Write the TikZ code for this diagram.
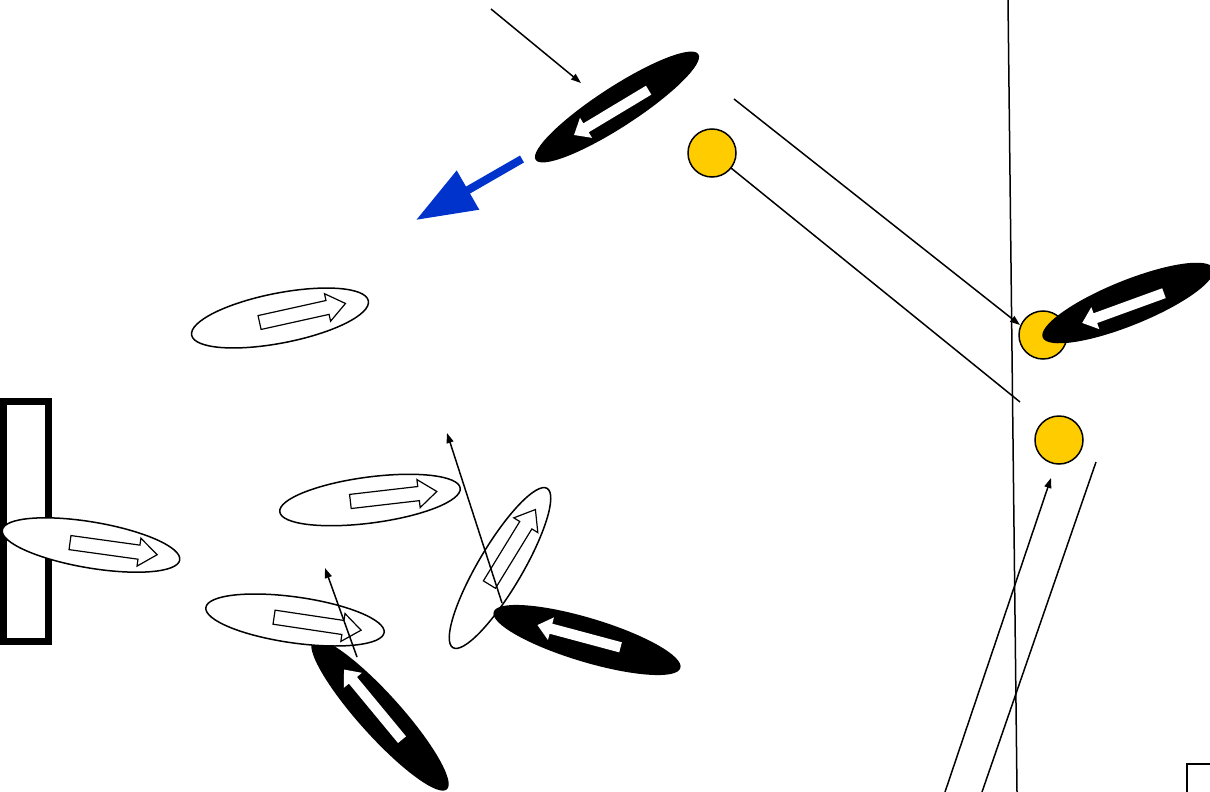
\documentclass[tikz,border=0pt]{standalone}
\usetikzlibrary{shapes.geometric,shapes.arrows,arrows.meta}
\definecolor{gold}{HTML}{FFCC00}
\definecolor{arrowblue}{HTML}{0033CC}
\begin{document}
\begin{tikzpicture}[x=1pt,y=-1pt,
  conn/.style={line width=1.5pt,-{Triangle[length=10pt,width=7pt]}},
  plainline/.style={line width=1.5pt},
  bov/.style={ellipse,fill=black,inner sep=0pt},
  wov/.style={ellipse,draw,line width=1.5pt,fill=white,inner sep=0pt},
  warr/.style={single arrow,fill=white,inner xsep=0pt,inner ysep=5pt,
    single arrow head extend=6.5pt,single arrow tip angle=80,minimum width=0pt},
  harr/.style={single arrow,draw,line width=1.2pt,fill=white,inner xsep=0pt,inner ysep=6.5pt,
    single arrow head extend=7pt,single arrow tip angle=75,minimum width=0pt},
  ball/.style={circle,draw,line width=1.5pt,fill=gold,inner sep=0pt,minimum size=48pt}]
\useasboundingbox (0,0) rectangle (1210,792);
\path[clip] (0,0) rectangle (1210,792);

% left bar
\draw[line width=7pt] (3,401) rectangle (48,641);

% right vertical line
\coordinate (v1) at (1008,0);
\coordinate (v2) at (1017,792);
\draw[plainline] (v1) -- (v2);

% bottom-right box
\draw[line width=1.5pt] (1187,764) rectangle (1240,820);

% yellow balls
\node[ball] (y1) at (712,153) {};
\node[ball] (y2) at (1043,335) {};
\node[ball] (y3) at (1059,440) {};

% top black oval
\node[bov,minimum width=194pt,minimum height=40pt,rotate=33] (b1) at (617,107) {};
\node[warr,minimum height=87pt,rotate=211] (w1) at (614,111) {};

% right black oval
\node[bov,minimum width=184pt,minimum height=45pt,rotate=22] (b2) at (1128,303) {};
\node[warr,minimum height=87pt,rotate=200] (w2) at (1126,307) {};

% white ovals
\node[wov,minimum width=180pt,minimum height=50pt,rotate=11] (e1) at (280,318) {};
\node[harr,minimum height=88pt,rotate=12.5] (h1) at (298,314) {};

\node[wov,minimum width=182pt,minimum height=46pt,rotate=7.5] (e2) at (370,500) {};
\node[harr,minimum height=87pt,rotate=6.6] (h2) at (389,497) {};

\node[wov,minimum width=180pt,minimum height=46pt,rotate=-9.6] (e3) at (91,545) {};
\node[harr,minimum height=88pt,rotate=-7.9] (h3) at (109,548) {};

% bottom black oval then white oval over it
\node[bov,minimum width=200pt,minimum height=42pt,rotate=-48] (b3) at (380,715) {};
\node[warr,minimum height=91pt,rotate=129.6] (w3) at (375,707) {};

\node[wov,minimum width=180pt,minimum height=46pt,rotate=-8] (e4) at (295,620) {};
\node[harr,minimum height=88pt,rotate=-8.5] (h4) at (313,623) {};

% tilted white oval, black oval over it
\node[wov,minimum width=185pt,minimum height=44pt,rotate=59.4] (e5) at (500,568) {};
\node[harr,minimum height=88pt,rotate=58.5] (h5) at (510,551) {};

\node[bov,minimum width=195pt,minimum height=44pt,rotate=-16.7] (b4) at (587,640) {};
\node[warr,minimum height=86pt,rotate=165] (w4) at (582,637) {};

% connectors
\coordinate (a1s) at (491,9);
\coordinate (a1e) at (581,83);
\draw[conn] (a1s) -- (a1e);

\coordinate (a2s) at (734,99);
\coordinate (a2e) at (1020,325);
\draw[conn] (a2s) -- (a2e);

\coordinate (l3s) at (731,168);
\coordinate (l3e) at (1020,402);
\draw[plainline] (l3s) -- (l3e);

\coordinate (a4s) at (945,792);
\coordinate (a4e) at (1051,478);
\draw[conn] (a4s) -- (a4e);

\coordinate (l5s) at (982,792);
\coordinate (l5e) at (1096,462);
\draw[plainline] (l5s) -- (l5e);

\coordinate (a6s) at (357,657);
\coordinate (a6e) at (325,568);
\draw[conn] (a6s) -- (a6e);

\coordinate (a7s) at (502,603);
\coordinate (a7e) at (447,433);
\draw[conn] (a7s) -- (a7e);

% blue arrow
\coordinate (bls) at (522,159);
\coordinate (ble) at (416,220);
\draw[arrowblue,line width=8pt,-{Triangle[length=60pt,width=43pt]}] (bls) -- (ble);
\end{tikzpicture}
\end{document}
